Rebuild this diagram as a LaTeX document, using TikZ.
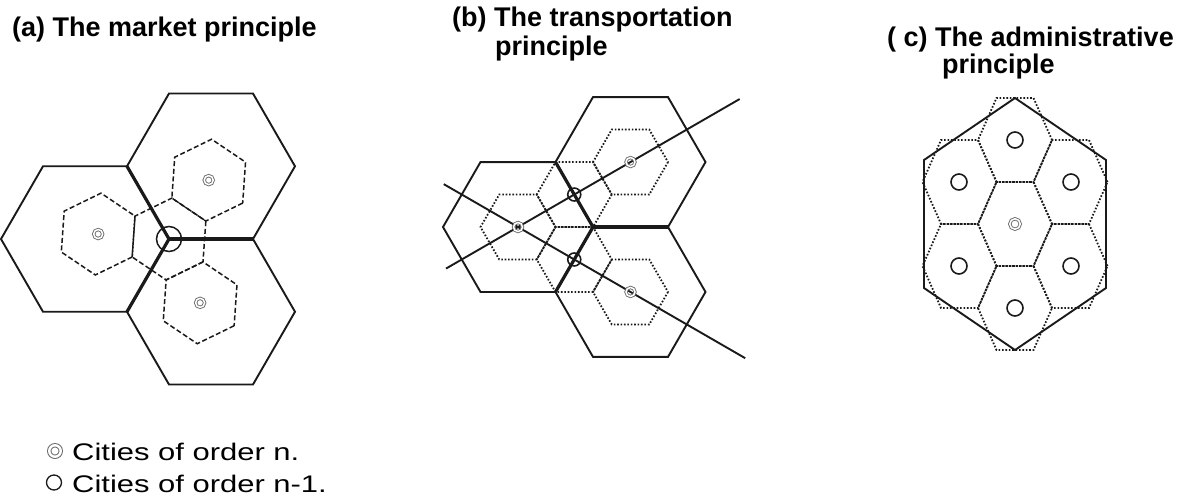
\documentclass[tikz,border=0pt]{standalone}
\usepackage{fontspec}
\setmainfont{Liberation Sans}
\newfontfamily\legendfont{Liberation Sans}[FakeStretch=1.29]
\usepackage{tikz}
\usetikzlibrary{positioning, calc}
\definecolor{map-ink}{HTML}{1A1A1A}
\definecolor{map-gray}{HTML}{6B6B6B}

\begin{document}
\begin{tikzpicture}[
    x=1pt, y=-1pt,
    hexline/.style={draw=map-ink, line width=1.9pt, line join=miter},
    border/.style={draw=map-ink, line width=3.2pt},
    dashhex/.style={draw=map-ink, line width=1.5pt, dash pattern=on 5pt off 2.6pt},
    dothex/.style={draw=map-ink, line width=1.8pt, dash pattern=on 1.6pt off 1.8pt},
    road/.style={draw=map-ink, line width=1.9pt},
    cityn/.style={circle, draw=map-gray, line width=0.9pt, double=white,
                  double distance=1.5pt, minimum size=9pt, inner sep=0pt},
    citym/.style={circle, draw=map-ink, line width=1.6pt, minimum size=13pt, inner sep=0pt},
    title/.style={anchor=base west, inner sep=0pt, font=\fontsize{27}{30}\selectfont\bfseries},
    lgd/.style={anchor=base west, inner sep=0pt, font=\fontsize{24}{28}\selectfont\legendfont},
]
    \useasboundingbox (0,0) rectangle (1188,501);

    % Titles
    \node[title] (ta)  at (12,36)  {(a) The market principle};
    \node[title] (tb)  at (452,26) {(b) The transportation};
    \node[title] (tb2) at (495,55) {principle};
    \node[title] (tc)  at (887,46) {( c) The administrative};
    \node[title] (tc2) at (942,73) {principle};

    % (a) market principle
    \coordinate (pa) at (169,239);
    \foreach \ang/\nm in {60/a1, 180/a2, -60/a3}
        \coordinate (\nm) at ($(pa)+(\ang:84)$);
    \foreach \c in {a1,a2,a3}
        \draw[hexline] (\c) +(0:84) -- +(60:84) -- +(120:84) -- +(180:84)
            -- +(240:84) -- +(300:84) -- cycle;
    \draw[border] (pa) -- +(120:84);
    \draw[border] (pa) -- +(0:84);
    \draw[border] (pa) -- +(240:84);

    \foreach \ang/\nm in {64/d1, 184/d2, -56/d3}
        \coordinate (\nm) at ($(pa)+(\ang:71)$);
    \foreach \c in {pa,d1,d2,d3}
        \draw[dashhex] (\c) +(34:41) -- +(94:41) -- +(154:41) -- +(214:41)
            -- +(274:41) -- +(334:41) -- cycle;
    \foreach \c in {d1,d2,d3}
        \node[cityn] (n-\c) at (\c) {};
    \node[citym, minimum size=25pt, line width=1.5pt] (hub-a) at (pa) {};

    % (b) transportation principle
    \coordinate (pb) at (593,227);
    \foreach \ang/\nm in {60/b1, 180/b2, -60/b3}
        \coordinate (\nm) at ($(pb)+(\ang:75)$);
    \foreach \c in {b1,b2,b3}
        \draw[hexline] (\c) +(0:75) -- +(60:75) -- +(120:75) -- +(180:75)
            -- +(240:75) -- +(300:75) -- cycle;
    \draw[border] (pb) -- +(120:75);
    \draw[border] (pb) -- +(0:75);
    \draw[border] (pb) -- +(240:75);

    \coordinate (m1) at ($(pb)+(120:37.5)$);
    \coordinate (m2) at ($(pb)+(240:37.5)$);
    \foreach \c in {b1,b2,b3,m1,m2}
        \draw[dothex] (\c) +(0:37.5) -- +(60:37.5) -- +(120:37.5) -- +(180:37.5)
            -- +(240:37.5) -- +(300:37.5) -- cycle;

    % roads
    \coordinate (r1s) at ($(b2)!-0.66!(b1)$);
    \coordinate (r1e) at ($(b2)!2.02!(b1)$);
    \coordinate (r2s) at ($(b2)!-0.64!(b3)$);
    \coordinate (r2e) at ($(b2)!1.97!(b3)$);
    \draw[road] (r1s) -- (r1e);
    \draw[road] (r2s) -- (r2e);

    \foreach \c in {b1,b2,b3}
        \node[cityn] (n-\c) at (\c) {};
    \foreach \c in {m1,m2}
        \node[citym] (s-\c) at (\c) {};

    % (c) administrative principle
    \begin{scope}[shift={(1015,224)}]
        \draw[hexline] (0,-126) -- (91,-64) -- (91,64) -- (0,126)
            -- (-91,64) -- (-91,-64) -- cycle;
        \foreach \cx/\cy in {0/0, 0/-84, 0/84, 55.5/-42, 55.5/42, -55.5/-42, -55.5/42}
            \draw[dothex] ({\cx+37},{\cy}) -- ({\cx+18.5},{\cy-42}) -- ({\cx-18.5},{\cy-42})
                -- ({\cx-37},{\cy}) -- ({\cx-18.5},{\cy+42}) -- ({\cx+18.5},{\cy+42}) -- cycle;
        \foreach \cx/\cy/\nm in {0/-84/t, 0/84/b, 56/-42/ur, 56/42/lr, -56/-42/ul, -56/42/ll}
            \node[citym, minimum size=16pt] (c-\nm) at (\cx,\cy) {};
        \node[cityn, minimum size=10.5pt] (c-hub) at (0,0) {};
    \end{scope}

    % Legend
    \node[cityn, minimum size=11.5pt, line width=1pt, double distance=2.4pt] (lg-n) at (55,451) {};
    \node[citym, minimum size=15pt, line width=1.3pt] (lg-m) at (54,482.5) {};
    \node[lgd] (lg-nt) at (72,460) {Cities of order n.};
    \node[lgd] (lg-mt) at (72,492) {Cities of order n-1.};
\end{tikzpicture}
\end{document}
